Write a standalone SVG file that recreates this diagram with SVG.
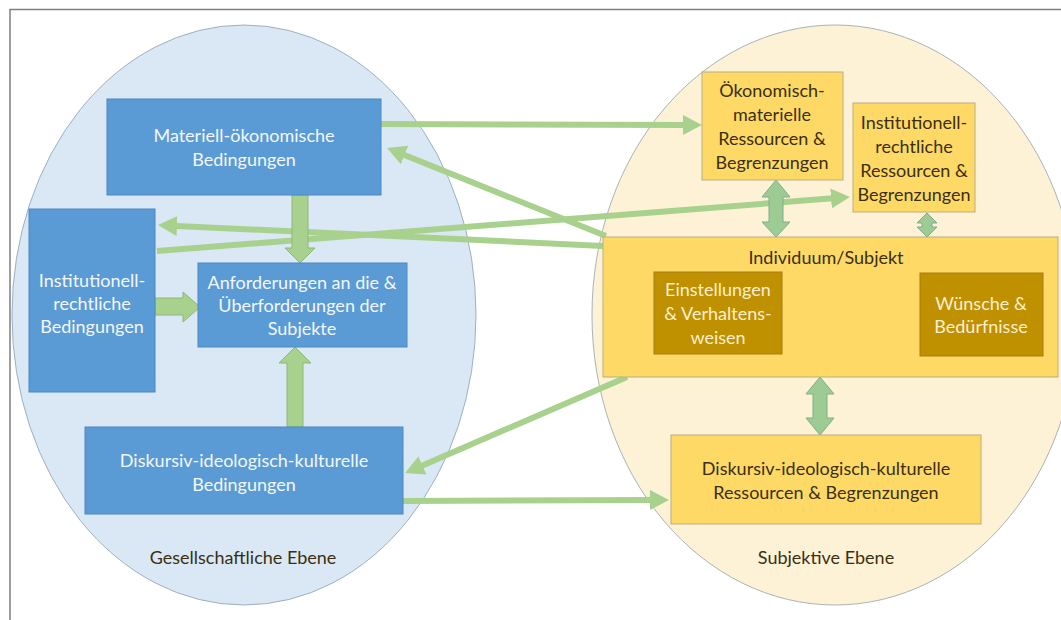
<svg xmlns="http://www.w3.org/2000/svg" width="1061" height="620" viewBox="0 0 1061 620">
<style>
text{font-family:Lato,"Noto Sans","Liberation Sans",sans-serif;font-size:18px;text-anchor:middle;dominant-baseline:central}
.blue{fill:#5b9bd5;stroke:#4a88c4;stroke-width:1}
.yel{fill:#ffd966;stroke:#b9ae86;stroke-width:1}
.gold{fill:#bf9000;stroke:#a67f10;stroke-width:1}
.wt{fill:#f3f7fb}
.dk{fill:#3a2f12}
.lt{fill:#fbefcf}
.ln{stroke:#a9d18e;stroke-width:6;fill:none;marker-end:url(#ah)}
.blk{fill:#a9d18e;stroke:#8cb878;stroke-width:1}
.dbl{fill:#9ccc94;stroke:#82ab8c;stroke-width:1}
</style>
<defs>
<marker id="ah" markerUnits="userSpaceOnUse" markerWidth="19" markerHeight="20" viewBox="0 0 19 20" refX="5" refY="10" orient="auto">
<path d="M0,0 L19,10 L0,20 Z" fill="#a9d18e"/>
</marker>
</defs>
<rect width="1061" height="620" fill="#ffffff"/>
<path d="M10,620 L10,9.5 L1061,9.5" fill="none" stroke="#7f7f7f" stroke-width="1.5"/>
<g id="ellipse-left"><ellipse cx="244" cy="315" rx="232" ry="290" fill="#dae7f4" stroke="#9fb0c0" stroke-width="1"/></g>
<g id="ellipse-right"><ellipse cx="835" cy="315" rx="243" ry="290" fill="#fdf2d5" stroke="#a8b4b8" stroke-width="1"/></g>
<g id="connectors">
<line class="ln" x1="381" y1="124" x2="688" y2="125"/>
<line class="ln" x1="606" y1="236" x2="400" y2="153.2"/>
<line class="ln" x1="603" y1="246" x2="172" y2="225.7"/>
<line class="ln" x1="157" y1="251" x2="836" y2="198.1"/>
<line class="ln" x1="627" y1="377" x2="417.9" y2="467.4"/>
<line class="ln" x1="403" y1="501" x2="655" y2="500"/>
<polygon class="blk" points="292,195 308,195 308,248 315,248 300,263 285,248 292,248"/>
<polygon class="blk" points="155,298 183,298 183,292 200,307 183,322 183,315 155,315"/>
<polygon class="blk" points="287,427 303,427 303,363 311,363 295,347 279,363 287,363"/>
<polygon class="dbl" points="776,180 790,197 783,197 783,222 790,222 776,237 762,222 769,222 769,197 762,197"/>
<polygon class="dbl" points="927,213 937,223 932,223 932,227 937,227 927,237 917,227 922,227 922,223 917,223"/>
<polygon class="dbl" points="820,377 834,394 827,394 827,418 834,418 820,435 806,418 813,418 813,394 806,394"/>
</g>
<g id="materiell"><rect class="blue" x="107" y="99" width="274" height="96"/>
<text class="wt" x="244" y="135">Materiell-ökonomische</text><text class="wt" x="244" y="159">Bedingungen</text></g>
<g id="institutionell-left"><rect class="blue" x="29" y="209" width="126" height="183"/>
<text class="wt" x="92" y="280">Institutionell-</text><text class="wt" x="92" y="303">rechtliche</text><text class="wt" x="92" y="326">Bedingungen</text></g>
<g id="anforderungen"><rect class="blue" x="198" y="263" width="209" height="84"/>
<text class="wt" x="302" y="282">Anforderungen an die &amp;</text><text class="wt" x="302" y="305">Überforderungen der</text><text class="wt" x="302" y="328">Subjekte</text></g>
<g id="diskursiv-left"><rect class="blue" x="85" y="427" width="318" height="87"/>
<text class="wt" x="244" y="460">Diskursiv-ideologisch-kulturelle</text><text class="wt" x="244" y="484">Bedingungen</text></g>
<g id="label-left"><text class="dk" x="243" y="557">Gesellschaftliche Ebene</text></g>
<g id="oekonomisch"><rect class="yel" x="702" y="72" width="141" height="108"/>
<text class="dk" x="772" y="90">Ökonomisch-</text><text class="dk" x="772" y="114">materielle</text><text class="dk" x="772" y="138">Ressourcen &amp;</text><text class="dk" x="772" y="162">Begrenzungen</text></g>
<g id="institutionell-right"><rect class="yel" x="853" y="103" width="122" height="109"/>
<text class="dk" x="914" y="122">Institutionell-</text><text class="dk" x="914" y="146">rechtliche</text><text class="dk" x="914" y="170">Ressourcen &amp;</text><text class="dk" x="914" y="194">Begrenzungen</text></g>
<g id="individuum"><rect class="yel" x="603" y="237" width="455" height="140"/>
<text class="dk" x="826" y="257">Individuum/Subjekt</text></g>
<g id="einstellungen"><rect class="gold" x="654" y="272" width="128" height="82"/>
<text class="lt" x="718" y="289">Einstellungen</text><text class="lt" x="718" y="313">&amp; Verhaltens-</text><text class="lt" x="718" y="337">weisen</text></g>
<g id="wuensche"><rect class="gold" x="920" y="273" width="123" height="83"/>
<text class="lt" x="981" y="303">Wünsche &amp;</text><text class="lt" x="981" y="326">Bedürfnisse</text></g>
<g id="diskursiv-right"><rect class="yel" x="671" y="435" width="310" height="89"/>
<text class="dk" x="826" y="468">Diskursiv-ideologisch-kulturelle</text><text class="dk" x="826" y="492">Ressourcen &amp; Begrenzungen</text></g>
<g id="label-right"><text class="dk" x="826" y="557">Subjektive Ebene</text></g>
</svg>
